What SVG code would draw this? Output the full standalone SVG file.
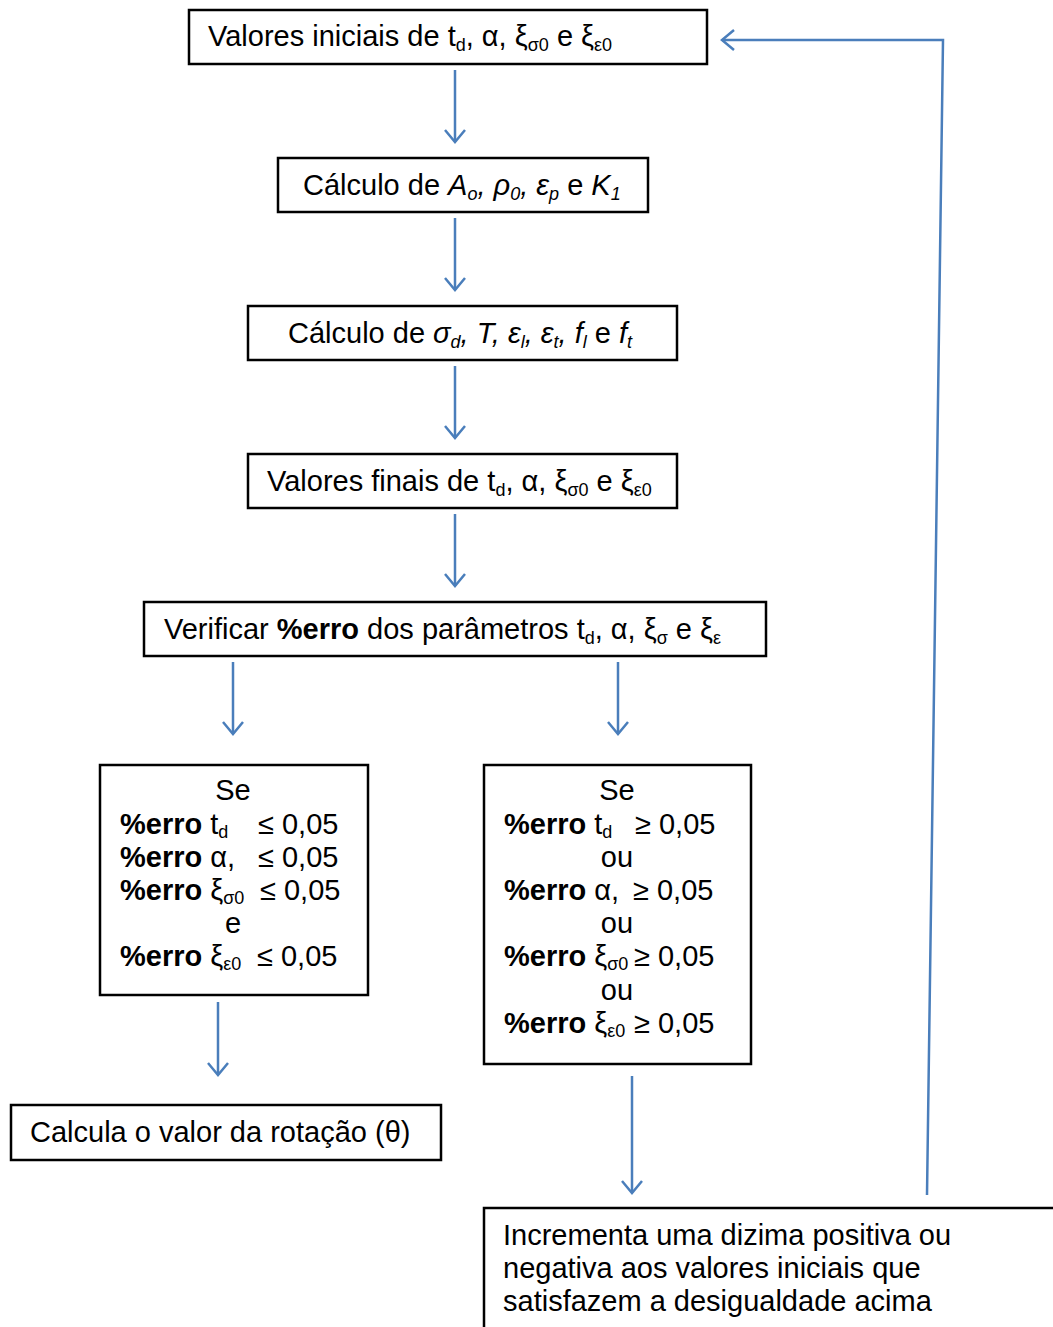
<svg xmlns="http://www.w3.org/2000/svg" width="1053" height="1327" viewBox="0 0 1053 1327">
<style>
.box{fill:#fff;stroke:#000;stroke-width:2.5}
.t{font-family:"Liberation Sans",Arial,sans-serif;font-size:29px;fill:#000}
.b{font-weight:bold}
.i{font-style:italic}
.s{font-size:18px}
.c{stroke:#4a7ebb;stroke-width:2.5;fill:none}
</style>
<defs>
<marker id="ah" markerUnits="userSpaceOnUse" markerWidth="30" markerHeight="30" refX="14" refY="11" orient="auto" viewBox="0 0 30 30">
<path d="M2,1 L14,11 L2,21" fill="none" stroke="#4a7ebb" stroke-width="2.5"/>
</marker>
</defs>
<rect width="1053" height="1327" fill="#fff"/>
<g id="connectors">
<line class="c" x1="455" y1="70" x2="455" y2="142" marker-end="url(#ah)"/>
<line class="c" x1="455" y1="218" x2="455" y2="290" marker-end="url(#ah)"/>
<line class="c" x1="455" y1="366" x2="455" y2="438" marker-end="url(#ah)"/>
<line class="c" x1="455" y1="514" x2="455" y2="586" marker-end="url(#ah)"/>
<line class="c" x1="233" y1="662" x2="233" y2="734" marker-end="url(#ah)"/>
<line class="c" x1="618" y1="662" x2="618" y2="734" marker-end="url(#ah)"/>
<line class="c" x1="218" y1="1002" x2="218" y2="1075" marker-end="url(#ah)"/>
<line class="c" x1="632" y1="1076" x2="632" y2="1193" marker-end="url(#ah)"/>
<polyline class="c" points="927,1195 943,40 722,40" marker-end="url(#ah)"/>
</g>
<g id="n1">
<rect class="box" x="189" y="10" width="518" height="54"/>
<text class="t" x="208" y="46">Valores iniciais de t<tspan class="s" dy="5">d</tspan><tspan dy="-5">, α, ξ</tspan><tspan class="s" dy="5">σ0</tspan><tspan dy="-5"> e ξ</tspan><tspan class="s" dy="5">ε0</tspan></text>
</g>
<g id="n2">
<rect class="box" x="278" y="158" width="370" height="54"/>
<text class="t" x="303" y="195">Cálculo de <tspan class="i">A</tspan><tspan class="i s" dy="5">o</tspan><tspan class="i" dy="-5">, ρ</tspan><tspan class="i s" dy="5">0</tspan><tspan class="i" dy="-5">, ε</tspan><tspan class="i s" dy="5">p</tspan><tspan dy="-5"> e </tspan><tspan class="i">K</tspan><tspan class="i s" dy="5">1</tspan></text>
</g>
<g id="n3">
<rect class="box" x="248" y="306" width="429" height="54"/>
<text class="t" x="288" y="343">Cálculo de <tspan class="i">σ</tspan><tspan class="i s" dy="5">d</tspan><tspan class="i" dy="-5">,  T,  ε</tspan><tspan class="i s" dy="5">l</tspan><tspan class="i" dy="-5">, ε</tspan><tspan class="i s" dy="5">t</tspan><tspan class="i" dy="-5">, f</tspan><tspan class="i s" dy="5">l</tspan><tspan dy="-5"> e </tspan><tspan class="i">f</tspan><tspan class="i s" dy="5">t</tspan></text>
</g>
<g id="n4">
<rect class="box" x="248" y="454" width="429" height="54"/>
<text class="t" x="267" y="491">Valores finais de t<tspan class="s" dy="5">d</tspan><tspan dy="-5">, α, ξ</tspan><tspan class="s" dy="5">σ0</tspan><tspan dy="-5"> e ξ</tspan><tspan class="s" dy="5">ε0</tspan></text>
</g>
<g id="n5">
<rect class="box" x="144" y="602" width="622" height="54"/>
<text class="t" x="164" y="639">Verificar <tspan class="b">%erro</tspan> dos parâmetros t<tspan class="s" dy="5">d</tspan><tspan dy="-5">, α, ξ</tspan><tspan class="s" dy="5">σ</tspan><tspan dy="-5"> e ξ</tspan><tspan class="s" dy="5">ε</tspan></text>
</g>
<g id="n6">
<rect class="box" x="100" y="765" width="268" height="230"/>
<text class="t" x="233" y="800" text-anchor="middle">Se</text>
<text class="t" x="120" y="834"><tspan class="b">%erro</tspan> t<tspan class="s" dy="4">d</tspan></text>
<text class="t" x="258" y="834">≤ 0,05</text>
<text class="t" x="120" y="867"><tspan class="b">%erro</tspan> α,</text>
<text class="t" x="258" y="867">≤ 0,05</text>
<text class="t" x="120" y="900"><tspan class="b">%erro</tspan> ξ<tspan class="s" dy="4">σ0</tspan></text>
<text class="t" x="260" y="900">≤ 0,05</text>
<text class="t" x="233" y="933" text-anchor="middle">e</text>
<text class="t" x="120" y="966"><tspan class="b">%erro</tspan> ξ<tspan class="s" dy="4">ε0</tspan></text>
<text class="t" x="257" y="966">≤ 0,05</text>
</g>
<g id="n7">
<rect class="box" x="484" y="765" width="267" height="299"/>
<text class="t" x="617" y="800" text-anchor="middle">Se</text>
<text class="t" x="504" y="834"><tspan class="b">%erro</tspan> t<tspan class="s" dy="4">d</tspan></text>
<text class="t" x="635" y="834">≥ 0,05</text>
<text class="t" x="617" y="867" text-anchor="middle">ou</text>
<text class="t" x="504" y="900"><tspan class="b">%erro</tspan> α,</text>
<text class="t" x="633" y="900">≥ 0,05</text>
<text class="t" x="617" y="933" text-anchor="middle">ou</text>
<text class="t" x="504" y="966"><tspan class="b">%erro</tspan> ξ<tspan class="s" dy="4">σ0</tspan></text>
<text class="t" x="634" y="966">≥ 0,05</text>
<text class="t" x="617" y="1000" text-anchor="middle">ou</text>
<text class="t" x="504" y="1033"><tspan class="b">%erro</tspan> ξ<tspan class="s" dy="4">ε0</tspan></text>
<text class="t" x="634" y="1033">≥ 0,05</text>
</g>
<g id="n8">
<rect class="box" x="11" y="1105" width="430" height="55"/>
<text class="t" x="30" y="1142">Calcula o valor da rotação (θ)</text>
</g>
<g id="n9">
<rect class="box" x="484" y="1208" width="600" height="140"/>
<text class="t" x="503" y="1245">Incrementa uma dizima positiva ou</text>
<text class="t" x="503" y="1278">negativa aos valores iniciais que</text>
<text class="t" x="503" y="1311">satisfazem a desigualdade acima</text>
</g>
</svg>
